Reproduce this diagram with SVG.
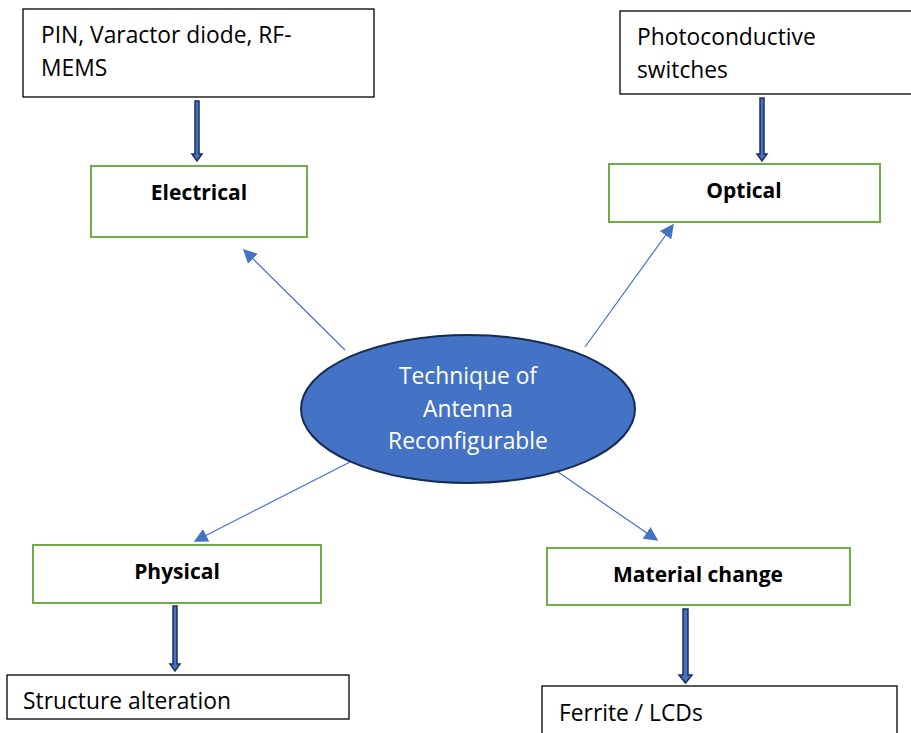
<svg xmlns="http://www.w3.org/2000/svg" width="911" height="733" viewBox="0 0 911 733">
<style>
.src{fill:#fff;stroke:#000;stroke-width:1.3}
.cat{fill:#fff;stroke:#70ad47;stroke-width:2}
.t{font-family:"Open Sans","Liberation Sans",Arial,sans-serif;font-size:22.8px;fill:#000}
.b{font-weight:bold;font-size:21px;text-anchor:middle}
.w{fill:#fff;text-anchor:middle}
.thin{stroke:#4472c4;stroke-width:1.2;fill:none}
.thick{fill:#4472c4;stroke:#1f2f5c;stroke-width:1.5}
</style>
<defs>
<marker id="ah" viewBox="0 0 10 10" refX="9" refY="5" markerWidth="14" markerHeight="14" markerUnits="userSpaceOnUse" orient="auto">
<path d="M0,0 L10,5 L0,10 Z" fill="#4472c4"/>
</marker>
</defs>
<g id="connectors">
<line class="thin" x1="345" y1="350" x2="244" y2="250" marker-end="url(#ah)"/>
<line class="thin" x1="585" y1="347" x2="673" y2="225" marker-end="url(#ah)"/>
<line class="thin" x1="350" y1="462" x2="195" y2="541" marker-end="url(#ah)"/>
<line class="thin" x1="558" y1="472" x2="657" y2="540" marker-end="url(#ah)"/>
<path class="thick" d="M195,101 h4 v53 h3 l-5,7 l-5,-7 h3 Z"/>
<path class="thick" d="M760,98 h4 v56 h3 l-5,7 l-5,-7 h3 Z"/>
<path class="thick" d="M173,606 h4 v58 h3 l-5,7 l-5,-7 h3 Z"/>
<path class="thick" d="M683,609 h5 v66 h4 l-6.5,8 l-6.5,-8 h4 Z"/>
</g>
<g id="pin">
<rect class="src" x="23" y="9" width="351" height="88"/>
<text class="t" x="41" y="43">PIN, Varactor diode, RF-</text>
<text class="t" x="41" y="76">MEMS</text>
</g>
<g id="photo">
<rect class="src" x="620" y="11" width="295" height="83"/>
<text class="t" x="637" y="45">Photoconductive</text>
<text class="t" x="637" y="78">switches</text>
</g>
<g id="electrical">
<rect class="cat" x="91" y="166" width="216" height="71"/>
<text class="t b" x="199" y="200">Electrical</text>
</g>
<g id="optical">
<rect class="cat" x="609" y="164" width="271" height="58"/>
<text class="t b" x="744" y="198">Optical</text>
</g>
<g id="center">
<ellipse cx="468" cy="409" rx="167" ry="74" fill="#4472c4" stroke="#172c51" stroke-width="2"/>
<text class="t w" x="468" y="384">Technique of</text>
<text class="t w" x="468" y="417">Antenna</text>
<text class="t w" x="468" y="449">Reconfigurable</text>
</g>
<g id="physical">
<rect class="cat" x="33" y="545" width="288" height="58"/>
<text class="t b" x="177" y="579">Physical</text>
</g>
<g id="material">
<rect class="cat" x="547" y="548" width="303" height="57"/>
<text class="t b" x="698" y="582">Material change</text>
</g>
<g id="structure">
<rect class="src" x="7" y="675" width="342" height="44"/>
<text class="t" x="23" y="709">Structure alteration</text>
</g>
<g id="ferrite">
<rect class="src" x="542" y="686" width="355" height="60"/>
<text class="t" x="559" y="721">Ferrite / LCDs</text>
</g>
</svg>
